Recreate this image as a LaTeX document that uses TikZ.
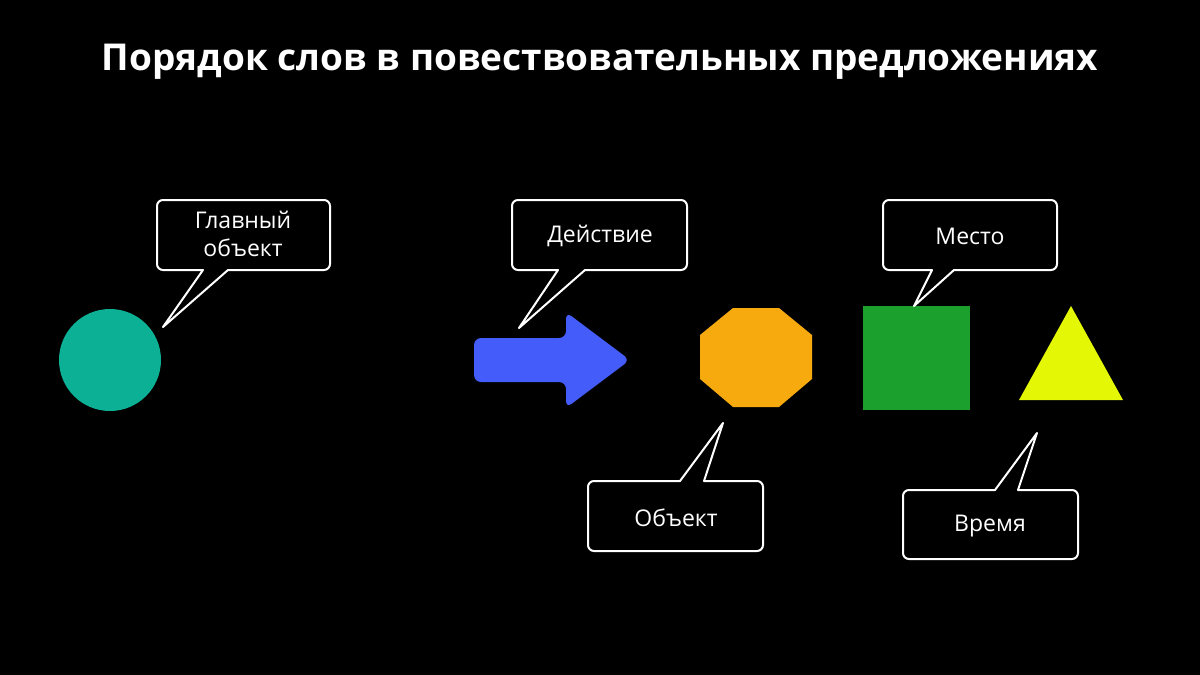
\documentclass[tikz,border=0pt]{standalone}
\usepackage{fontspec}
\setmainfont{Open Sans}
\newfontfamily\titlefont{Open Sans}
\begin{document}
\begin{tikzpicture}[x=1pt,y=-1pt,
  callout/.style={draw=white, line width=2pt, fill=black, line join=round},
  lbl/.style={text=white, font=\fontsize{23}{28}\selectfont, align=center, inner sep=0pt},
  figshape/.style={draw=none}]
\fill[black] (0,0) rectangle (1200,675);
\useasboundingbox (0,0) rectangle (1200,675);

% title
\node[text=white, font=\titlefont\bfseries\fontsize{37}{44}\selectfont] (title) at (600,62) {Порядок слов в повествовательных предложениях};

% shapes
\fill[figshape, fill={rgb,255:red,11;green,176;blue,149}] (110,360) circle (51);
\coordinate (circ) at (110,360);
\fill[figshape, fill={rgb,255:red,67;green,92;blue,250}, rounded corners=7] (474,338) -- (566,338) -- (566,312) -- (630,360) -- (566,408) -- (566,382) -- (474,382) -- cycle;
\fill[figshape, fill={rgb,255:red,246;green,170;blue,14}] (733,308) -- (779,308) -- (812,335) -- (812,379) -- (779,407) -- (733,407) -- (700,379) -- (700,335) -- cycle;
\fill[figshape, fill={rgb,255:red,28;green,160;blue,45}] (863,306) rectangle (970,410);
\fill[figshape, fill={rgb,255:red,228;green,248;blue,5}] (1071,306) -- (1123,400) -- (1019,400) -- cycle;

% callouts
\draw[callout] (163,327) -- (203,270) [rounded corners=6] -- (157,270) -- (157,200) -- (330,200) -- (330,270) [sharp corners] -- (228,270) -- cycle;
\node[lbl] (c1) at (243,234) {Главный\\объект};

\draw[callout] (519,328) -- (558,270) [rounded corners=6] -- (512,270) -- (512,200) -- (687,200) -- (687,270) [sharp corners] -- (585,270) -- cycle;
\node[lbl] (c2) at (600,236) {Действие};

\draw[callout] (914,306) -- (932,270) [rounded corners=6] -- (883,270) -- (883,200) -- (1057,200) -- (1057,270) [sharp corners] -- (954,270) -- cycle;
\node[lbl] (c3) at (970,236) {Место};

\draw[callout] (723,423) -- (704,481) [rounded corners=6] -- (763,481) -- (763,551) -- (588,551) -- (588,481) [sharp corners] -- (680,481) -- cycle;
\node[lbl] (c4) at (676,518) {Объект};

\draw[callout] (1037,433) -- (1018,490) [rounded corners=6] -- (1078,490) -- (1078,559) -- (903,559) -- (903,490) [sharp corners] -- (995,490) -- cycle;
\node[lbl] (c5) at (990,526) {Время};
\end{tikzpicture}
\end{document}
